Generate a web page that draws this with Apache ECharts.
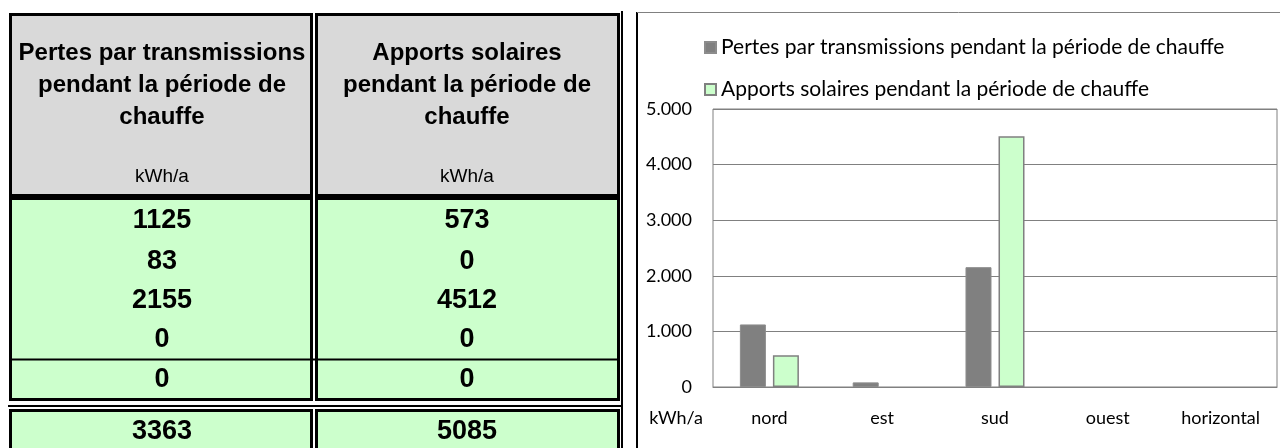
<!DOCTYPE html>
<html>
<head>
<meta charset="utf-8">
<script src="https://cdn.jsdelivr.net/npm/echarts@6/dist/echarts.min.js"></script>
<style>
  html, body { margin: 0; padding: 0; background: #fff; }
  #main { width: 1280px; height: 448px; }
</style>
</head>
<body>
<div id="main"></div>
<script>
  // données
  var categories = ['nord', 'est', 'sud', 'ouest', 'horizontal']
  var pertes = [1125, 83, 2155, 0, 0]
  var apports = [573, 0, 4512, 0, 0]
  var totalPertes = 3363
  var totalApports = 5085
  var yTicks = [0, 1000, 2000, 3000, 4000, 5000]

  var nomPertes = 'Pertes par transmissions pendant la période de chauffe'
  var nomApports = 'Apports solaires pendant la période de chauffe'
  var enteteGauche = ['Pertes par transmissions', 'pendant la période de', 'chauffe']
  var enteteDroite = ['Apports solaires', 'pendant la période de', 'chauffe']
  var unite = 'kWh/a'

  var myChart = echarts.init(document.getElementById('main'))

  function milliers(v) {
    return String(v).replace(/\B(?=(\d{3})+(?!\d))/g, '.')
  }
  // pas de bordure pour les barres à zéro
  function barres(valeurs) {
    return valeurs.map(function (v) {
      return v ? v : { value: v, itemStyle: { borderWidth: 0 } }
    })
  }

  // tableau à gauche (éléments graphiques)
  var gris = '#d9d9d9'
  var vert = '#ccffcc'
  var col1 = { x: 10.5, w: 301, cx: 162 }
  var col2 = { x: 316.5, w: 302, cx: 467 }
  var g = []

  function cellule(c, y, h, fill) {
    g.push({ type: 'rect', shape: { x: c.x, y: y, width: c.w, height: h },
      style: { fill: fill, stroke: '#000', lineWidth: 3 } })
  }
  function texte(x, y, t, font) {
    g.push({ type: 'text', x: x, y: y,
      style: { text: t, font: font, fill: '#000', align: 'center', verticalAlign: 'middle' } })
  }

  // en-têtes
  cellule(col1, 14.5, 181, gris)
  cellule(col2, 14.5, 181, gris)
  var fEntete = 'bold 24px "Liberation Sans"'
  var yLignes = [53, 85, 117]
  enteteGauche.forEach(function (t, i) { texte(col1.cx, yLignes[i], t, fEntete) })
  enteteDroite.forEach(function (t, i) { texte(col2.cx, yLignes[i], t, fEntete) })
  texte(col1.cx, 177, unite, '19px "Liberation Sans"')
  texte(col2.cx, 177, unite, '19px "Liberation Sans"')

  // valeurs
  cellule(col1, 198.5, 201, vert)
  cellule(col2, 198.5, 201, vert)
  g.push({ type: 'line', shape: { x1: 10.5, y1: 359.5, x2: 619, y2: 359.5 },
    style: { stroke: '#000', lineWidth: 2 } })
  var fNombre = 'bold 27px "Liberation Sans"'
  var yRangs = [221, 262, 301, 340, 380]
  yRangs.forEach(function (y, i) {
    texte(col1.cx, y, String(pertes[i]), fNombre)
    texte(col2.cx, y, String(apports[i]), fNombre)
  })

  // totaux
  g.push({ type: 'line', shape: { x1: 8, y1: 406, x2: 623, y2: 406 },
    style: { stroke: '#000', lineWidth: 2 } })
  cellule(col1, 410.5, 60, vert)
  cellule(col2, 410.5, 60, vert)
  texte(col1.cx, 432, String(totalPertes), fNombre)
  texte(col2.cx, 432, String(totalApports), fNombre)

  // trait double à droite
  g.push({ type: 'line', shape: { x1: 622, y1: 11, x2: 622, y2: 448 },
    style: { stroke: '#000', lineWidth: 2 } })

  // cadre du graphique
  g.push({ type: 'line', shape: { x1: 637, y1: 12, x2: 637, y2: 448 },
    style: { stroke: '#000', lineWidth: 2 } })
  g.push({ type: 'line', shape: { x1: 637, y1: 12.5, x2: 1280, y2: 12.5 },
    style: { stroke: '#808080', lineWidth: 1 } })
  // unité sous l'axe
  g.push({ type: 'text', x: 676, y: 418,
    style: { text: unite, font: '18px Lato', fill: '#000', align: 'center', verticalAlign: 'middle' } })

  var option = {
    animation: false,
    textStyle: { fontFamily: 'Lato' },
    graphic: g,
    legend: {
      orient: 'vertical',
      left: 699,
      top: 31,
      itemWidth: 11,
      itemHeight: 11,
      itemGap: 19,
      icon: 'rect',
      textStyle: { fontSize: 21, color: '#000', fontFamily: 'Lato', lineHeight: 23 },
      data: [nomPertes, nomApports]
    },
    grid: {
      left: 713, right: 3, top: 109, bottom: 61,
      show: true, borderColor: '#808080', borderWidth: 1
    },
    xAxis: {
      type: 'category',
      data: categories,
      axisLine: { lineStyle: { color: '#808080' } },
      axisTick: { show: false },
      axisLabel: { color: '#000', fontSize: 18, margin: 22 }
    },
    yAxis: {
      type: 'value',
      min: yTicks[0],
      max: yTicks[yTicks.length - 1],
      interval: 1000,
      axisLine: { show: false },
      axisTick: { show: false },
      splitLine: { lineStyle: { color: '#808080', width: 1 } },
      axisLabel: { color: '#000', fontSize: 18, margin: 21, formatter: milliers }
    },
    series: [
      {
        name: nomPertes,
        type: 'bar',
        data: barres(pertes),
        barWidth: 26,
        barGap: '27%',
        itemStyle: { color: '#808080', borderColor: '#8c8c8c', borderWidth: 1 }
      },
      {
        name: nomApports,
        type: 'bar',
        data: barres(apports),
        barWidth: 26,
        itemStyle: { color: '#ccffcc', borderColor: '#808080', borderWidth: 1.5 }
      }
    ]
  }

  myChart.setOption(option)
</script>
</body>
</html>
